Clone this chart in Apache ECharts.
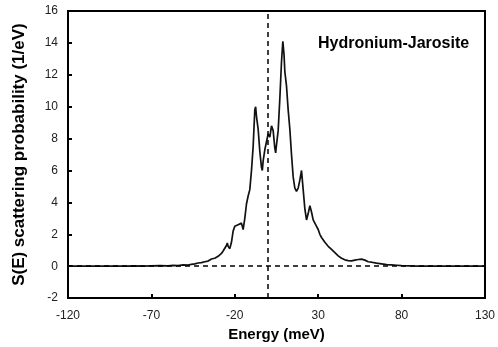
<!DOCTYPE html>
<html><head><meta charset="utf-8">
<script src="https://cdn.jsdelivr.net/npm/echarts@6/dist/echarts.min.js"></script>
<style>html,body{margin:0;padding:0;background:#fff}#c{width:498px;height:347px}</style>
</head><body><div id="c"></div>
<script>
const energies = [-120,-115,-110,-105,-100,-95,-90,-85,-80,-75,-70,-65,-60,-57,-54,-51,-48,-46,-44,-42,-40,-38,-36,-34,-32,-30,-29,-28,-27,-26,-25,-24.5,-24,-23,-22,-21,-20,-19,-18,-17,-16,-15,-14,-13,-12,-11,-10,-9,-8,-7.5,-7,-6,-5,-4,-3.5,-3,-2,-1,0,1,2,3,4,4.5,5,6,7,8,8.8,9.5,10,11,12,13,14,15,16,17,18,19,20,21,22,23,24,25,26,27,28,29,30,31,32,34,36,38,40,42,44,46,48,50,52,54,56,58,60,62,65,68,71,74,77,80,85,90,95,100,110,120,130];
const values = [0.01,0.0,0.01,0.0,0.01,0.01,0.0,0.01,0.02,0.01,0.02,0.03,0.02,0.05,0.04,0.08,0.07,0.12,0.15,0.2,0.22,0.28,0.32,0.45,0.5,0.62,0.7,0.8,0.95,1.05,1.3,1.45,1.25,1.1,1.5,2.2,2.5,2.4,2.6,2.5,2.7,2.3,3.0,3.9,4.4,4.8,6.0,7.5,9.8,10.0,9.4,8.6,7.2,6.2,6.0,6.6,7.3,7.8,8.3,8.1,8.8,8.5,7.4,7.1,7.6,8.5,10.5,12.8,14.1,13.3,12.2,11.3,9.8,8.6,7.0,5.6,4.9,4.7,4.9,5.4,6.0,4.8,3.6,2.9,3.3,3.8,3.4,2.9,2.7,2.5,2.3,2.0,1.8,1.5,1.25,1.05,0.85,0.65,0.5,0.4,0.35,0.33,0.38,0.42,0.44,0.38,0.28,0.25,0.19,0.15,0.1,0.08,0.06,0.04,0.02,0.01,0.01,0.0,0.01,0.0,0.01];
const xTicks = {min:-120, max:130, interval:50};
const yTicks = {min:-2, max:16, interval:2};
const titleText = 'Hydronium-Jarosite';
const xName = 'Energy (meV)';
const yName = 'S(E) scattering probability (1/eV)';

const data = energies.map((e,i)=>[e, values[i]]);
const chart = echarts.init(document.getElementById('c'), null, {renderer:'canvas'});
const ff = 'Liberation Sans, Arial, sans-serif';
chart.setOption({
  animation:false,
  title:{text:titleText, left:313, top:31, textStyle:{fontFamily:ff, fontSize:16, fontWeight:'bold', color:'#000'}},
  grid:{left:68, right:10, top:11, bottom:48, show:true, borderColor:'#000', borderWidth:2, backgroundColor:'transparent'},
  xAxis:{type:'value', min:xTicks.min, max:xTicks.max, interval:xTicks.interval,
    name:xName, nameLocation:'middle', nameGap:21,
    nameTextStyle:{fontFamily:ff, fontSize:15, fontWeight:'bold', color:'#000'},
    axisLine:{onZero:false, lineStyle:{color:'#000', width:2}},
    axisTick:{inside:true, length:4, lineStyle:{color:'#000', width:2}},
    axisLabel:{fontFamily:ff, fontSize:12, color:'#222', margin:12},
    splitLine:{show:false}},
  yAxis:{type:'value', min:yTicks.min, max:yTicks.max, interval:yTicks.interval,
    name:yName, nameLocation:'middle', nameGap:40,
    nameTextStyle:{fontFamily:ff, fontSize:17, fontWeight:'bold', color:'#000'},
    axisLine:{onZero:false, lineStyle:{color:'#000', width:2}},
    axisTick:{inside:true, length:4, lineStyle:{color:'#000', width:2}},
    axisLabel:{fontFamily:ff, fontSize:12, color:'#222', margin:10},
    splitLine:{show:false}},
  series:[{
    type:'line', data:data, showSymbol:false, symbol:'none', z:3,
    lineStyle:{color:'#111', width:1.7},
    markLine:{silent:true, symbol:'none', label:{show:false},
      lineStyle:{color:'#000', type:[5,4], width:1.5},
      data:[{xAxis:0},{yAxis:0}]}
  }]
});
</script></body></html>
